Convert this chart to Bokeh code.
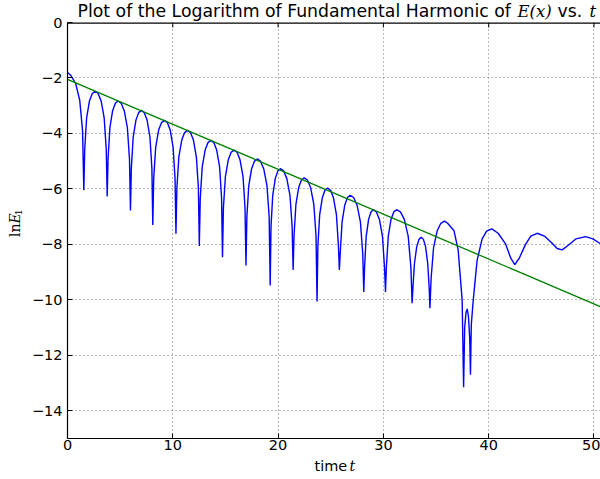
import math
from bokeh.plotting import figure
from bokeh.layouts import column, row
from bokeh.models import Range1d, FixedTicker, CustomJSTickFormatter, Label
from bokeh.embed import file_html
from bokeh.resources import INLINE

# ---- data ----
t_vals = [
    0.00, 0.30, 0.775, 1.16, 1.43, 1.55,
    1.636, 1.818, 2.085, 2.353, 2.62, 2.908, 3.195, 3.483, 3.678, 3.77,
    3.852, 4.028, 4.285, 4.543, 4.80, 5.095, 5.39, 5.685, 5.886, 5.98,
    6.063, 6.24, 6.50, 6.76, 7.02, 7.29, 7.56, 7.83, 8.014, 8.10,
    8.189, 8.378, 8.655, 8.933, 9.21, 9.483, 9.755, 10.028, 10.213, 10.30,
    10.388, 10.575, 10.85, 11.125, 11.40, 11.68, 11.96, 12.24, 12.43, 12.52,
    12.608, 12.795, 13.07, 13.345, 13.62, 13.895, 14.17, 14.445, 14.632, 14.72,
    14.808, 14.995, 15.27, 15.545, 15.82, 16.103, 16.385, 16.67, 16.86, 16.95,
    17.036, 17.218, 17.485, 17.753, 18.02, 18.328, 18.635, 18.943, 19.152, 19.25,
    19.328, 19.493, 19.735, 19.978, 20.22, 20.523, 20.825, 21.128, 21.333, 21.43,
    21.514, 21.693, 21.955, 22.218, 22.48, 22.785, 23.09, 23.395, 23.602, 23.70,
    23.78, 23.95, 24.20, 24.45, 24.70, 24.98, 25.26, 25.54, 25.73, 25.82,
    25.902, 26.078, 26.335, 26.593, 26.85, 27.173, 27.495, 27.818, 28.037, 28.14,
    28.213, 28.368, 28.595, 28.823, 29.05, 29.338, 29.625, 29.913, 30.108, 30.20,
    30.284, 30.463, 30.725, 30.988, 31.25, 31.62, 31.99, 32.36, 32.612, 32.73,
    32.80, 32.948, 33.165, 33.383, 33.60, 33.805, 34.01, 34.215, 34.354, 34.42,
    34.53, 34.765, 35.11, 35.455, 35.80, 36.10, 36.71, 37.10, 37.48, 37.62,
    37.72, 37.85, 37.96, 38.08, 38.20, 38.27,
    38.35, 38.53, 38.90, 39.38, 39.80, 40.30, 40.90, 41.60,
    42.10, 42.48, 42.90, 43.50, 44.00, 44.60, 45.30, 46.00,
    46.50, 46.98, 47.50, 48.30, 49.20, 49.90, 50.62,
]
lnE_vals = [
    -1.80, -1.90, -2.20, -2.80, -3.90, -6.05,
    -4.56, -3.44, -2.83, -2.56, -2.48, -2.56, -2.83, -3.44, -4.56, -6.27,
    -4.91, -3.79, -3.18, -2.91, -2.83, -2.91, -3.18, -3.79, -4.91, -6.78,
    -5.25, -4.13, -3.52, -3.25, -3.17, -3.25, -3.52, -4.13, -5.25, -7.30,
    -5.61, -4.49, -3.88, -3.61, -3.53, -3.61, -3.88, -4.49, -5.61, -7.62,
    -5.97, -4.85, -4.24, -3.97, -3.89, -3.97, -4.24, -4.85, -5.97, -8.06,
    -6.33, -5.21, -4.60, -4.33, -4.25, -4.33, -4.60, -5.21, -6.33, -8.46,
    -6.68, -5.56, -4.95, -4.68, -4.60, -4.68, -4.95, -5.56, -6.68, -8.76,
    -7.00, -5.88, -5.27, -5.00, -4.92, -5.00, -5.27, -5.88, -7.00, -9.48,
    -7.35, -6.23, -5.62, -5.35, -5.27, -5.35, -5.62, -6.23, -7.35, -8.92,
    -7.68, -6.56, -5.95, -5.68, -5.60, -5.68, -5.95, -6.56, -7.68, -10.06,
    -8.05, -6.93, -6.32, -6.05, -5.97, -6.05, -6.32, -6.93, -8.05, -8.92,
    -8.31, -7.19, -6.58, -6.31, -6.23, -6.31, -6.58, -7.19, -8.31, -9.72,
    -8.83, -7.71, -7.10, -6.83, -6.75, -6.83, -7.10, -7.71, -8.83, -9.72,
    -8.83, -7.71, -7.10, -6.83, -6.75, -6.83, -7.10, -7.71, -8.83, -10.12,
    -9.60, -8.70, -8.09, -7.82, -7.74, -7.82, -8.09, -8.70, -9.60, -10.30,
    -9.24, -8.12, -7.51, -7.24, -7.16, -7.24, -7.51, -8.20, -10.00, -13.15,
    -11.00, -10.45, -10.33, -10.60, -11.40, -12.70,
    -10.90, -10.03, -8.58, -7.80, -7.52, -7.44, -7.60, -7.98,
    -8.50, -8.73, -8.50, -8.00, -7.70, -7.60, -7.70, -7.95,
    -8.15, -8.20, -8.05, -7.80, -7.72, -7.80, -7.98,
]
fit_t = [0.0, 50.62]
fit_lnE = [-2.05, -10.25]

x_ticks = [0, 10, 20, 30, 40, 50]
y_ticks = [0, -2, -4, -6, -8, -10, -12, -14]
y_tick_labels = ["0", "\u22122", "\u22124", "\u22126", "\u22128", "\u221210", "\u221212", "\u221214"]
x_lim = (0, 50.62)
y_lim = (-15, 0)

# layout in pixels
W, H = 600, 479
LEFT_W = 62          # strip holding the y label and y tick labels
TOP_H = 22           # title strip
BOT_H = 23           # x label strip
MAIN_H = H - TOP_H - BOT_H
MAIN_W = W - LEFT_W
BORDER_L, BORDER_B = 5, 18
FRAME_H = MAIN_H - BORDER_B
FRAME_X0 = LEFT_W + BORDER_L


def text_fig(w, h, x_range, y_range, border_left=0):
    f = figure(width=w, height=h, output_backend="svg", toolbar_location=None, title=None,
               x_range=x_range, y_range=y_range,
               x_axis_location=None, y_axis_location=None,
               min_border_left=border_left, min_border_right=0, min_border_top=0,
               min_border_bottom=0,
               background_fill_color="white", border_fill_color="white")
    f.outline_line_color = None
    f.xgrid.visible = False
    f.ygrid.visible = False
    return f


def lab(f, x, y, text, font, size, style="normal", angle=0.0, align="left"):
    f.add_layout(Label(x=x, y=y, text=text, text_font=font, text_font_size=size,
                       text_font_style=style, text_align=align, text_baseline="middle",
                       text_color="black", angle=angle))


# ---- main plot ----
p = figure(width=MAIN_W, height=MAIN_H, output_backend="svg", toolbar_location=None, title=None,
           x_range=Range1d(*x_lim), y_range=Range1d(*y_lim),
           min_border_left=BORDER_L, min_border_right=0, min_border_top=0,
           min_border_bottom=BORDER_B,
           background_fill_color="white", border_fill_color="white")
p.outline_line_color = None

fmt = CustomJSTickFormatter(code="return tick < 0 ? '\\u2212' + Math.abs(tick) : tick.toString();")

for ax in [p.xaxis[0], p.yaxis[0]]:
    ax.major_tick_in = 5
    ax.major_tick_out = 0
    ax.minor_tick_line_color = None
    ax.axis_line_color = "black"
    ax.axis_line_width = 1.2
    ax.major_tick_line_color = "black"
    ax.major_label_text_font = "DejaVu Sans"
    ax.major_label_text_font_size = "14.5px"
    ax.major_label_text_color = "black"
    ax.formatter = fmt
p.xaxis[0].ticker = FixedTicker(ticks=x_ticks)
p.yaxis[0].ticker = FixedTicker(ticks=y_ticks)
p.xaxis[0].major_label_standoff = 1
# y tick labels are drawn in the left strip so the top one can straddle the frame edge
p.yaxis[0].major_label_text_font_size = "1px"
p.yaxis[0].major_label_text_color = None
p.yaxis[0].major_label_standoff = 0

for g in [p.xgrid[0], p.ygrid[0]]:
    g.grid_line_color = "#555555"
    g.grid_line_width = 1
    g.grid_line_dash = "1 3"
    g.grid_line_alpha = 0.8
p.xgrid[0].ticker = FixedTicker(ticks=x_ticks)
p.ygrid[0].ticker = FixedTicker(ticks=y_ticks)

# top spine with inward ticks (half of the wide line is clipped by the frame)
p.line([x_lim[0], x_lim[1]], [y_lim[1], y_lim[1]], line_color="black", line_width=2.4)
p.segment(x0=x_ticks, y0=[y_lim[1]] * len(x_ticks), x1=x_ticks,
          y1=[y_lim[1] - 0.18] * len(x_ticks), line_color="black", line_width=1)

p.line(t_vals, lnE_vals, line_color="#0000ff", line_width=1.4)
p.line(fit_t, fit_lnE, line_color="#008000", line_width=1.3)

# ---- left strip: same y scale as the main frame, extended over the full height ----
per_px = (y_lim[1] - y_lim[0]) / FRAME_H
left_range = Range1d(y_lim[0] - (H - TOP_H - FRAME_H) * per_px, y_lim[1] + TOP_H * per_px)
left_fig = text_fig(LEFT_W, H, Range1d(0, LEFT_W), left_range)
for tv, tl in zip(y_ticks, y_tick_labels):
    lab(left_fig, LEFT_W, tv, tl, "DejaVu Sans", "14.5px", align="right")
lab(left_fig, 14.5, -7.73, "ln", "DejaVu Serif", "14px", "normal", math.pi / 2)
lab(left_fig, 14.5, -7.25, "E", "DejaVu Serif", "14px", "italic", math.pi / 2)
lab(left_fig, 17.5, -6.96, "1", "DejaVu Serif", "10px", "normal", math.pi / 2)

# ---- title strip (x in page pixels; frame aligned with the main frame) ----
title_fig = text_fig(MAIN_W, TOP_H, Range1d(FRAME_X0, W), Range1d(0, TOP_H), border_left=BORDER_L)
lab(title_fig, 77, 11.5, "Plot of the Logarithm of Fundamental Harmonic of", "DejaVu Sans", "17.3px")
lab(title_fig, 517, 11.2, "E(x)", "DejaVu Serif", "16.5px", "italic")
lab(title_fig, 557, 11.5, "vs.", "DejaVu Sans", "17.3px")
lab(title_fig, 589, 11.2, "t", "DejaVu Serif", "16.5px", "italic")

# ---- x label strip ----
xlab_fig = text_fig(MAIN_W, BOT_H, Range1d(FRAME_X0, W), Range1d(0, BOT_H), border_left=BORDER_L)
lab(xlab_fig, 314, 14, "time", "DejaVu Sans", "14.5px")
lab(xlab_fig, 349, 14, "t", "DejaVu Serif", "14px", "italic")

layout = row(left_fig, column(title_fig, p, xlab_fig))

open("out.html", "w").write(file_html(layout, INLINE))
